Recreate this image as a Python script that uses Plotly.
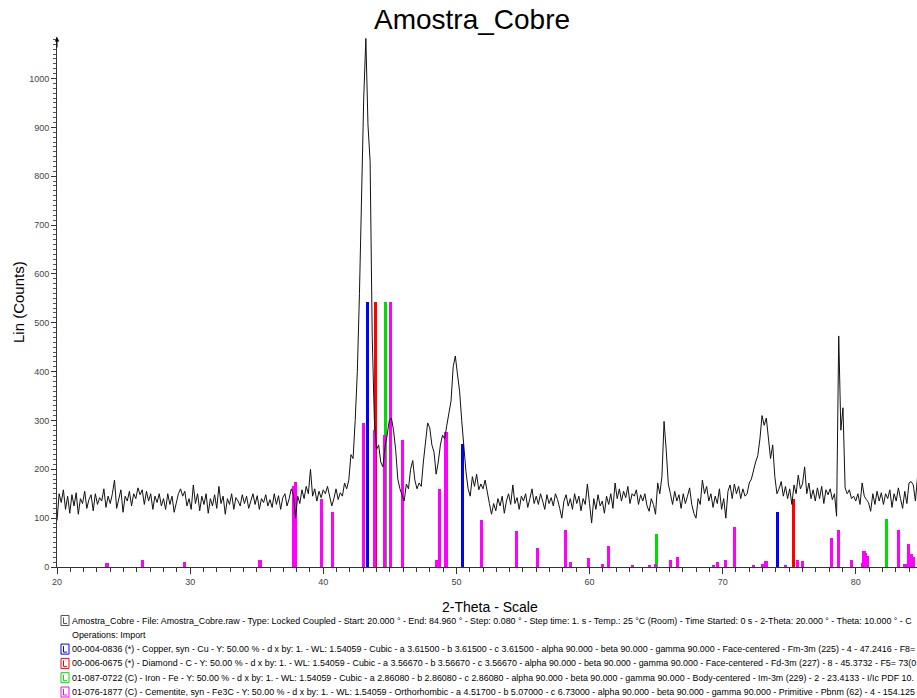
import plotly.graph_objects as go

TITLE = "Amostra_Cobre"
X_TITLE = "2-Theta - Scale"
Y_TITLE = "Lin (Counts)"

# measured scan (every second point of the 0.080 deg scan)
TWO_THETA_START = 20.0
TWO_THETA_STEP = 0.16
COUNTS = [
    95, 150, 132, 158, 118, 145, 110, 148, 125, 152, 108, 140, 130, 155, 120, 138, 148, 115, 150, 128, 142, 135, 160, 122, 145,
    130, 150, 178, 120, 140, 158, 112, 145, 135, 155, 125, 150, 140, 162, 148, 158, 128, 155, 135, 150, 118, 145, 132, 150, 125,
    140, 118, 150, 128, 145, 112, 135, 150, 160, 145, 155, 125, 140, 118, 168, 130, 150, 115, 145, 128, 150, 110, 140, 125, 148,
    120, 165, 130, 145, 108, 140, 128, 150, 118, 142, 135, 125, 148, 130, 145, 120, 138, 150, 128, 146, 118, 140, 132, 148, 125,
    138, 122, 150, 128, 146, 118, 142, 150, 125, 140, 160, 148, 100, 145, 130, 158, 140, 165, 150, 200, 145, 160, 135, 155, 142,
    158, 150, 165, 148, 125, 140, 160, 138, 152, 145, 172, 160, 178, 230, 222, 300, 400, 560, 760, 960, 1082, 905, 830, 470, 300,
    240, 250, 215, 205, 245, 270, 300, 305, 280, 240, 180, 160, 148, 135, 170, 160, 200, 218, 178, 160, 172, 165, 215, 250, 295,
    285, 250, 235, 190, 215, 250, 270, 262, 290, 320, 340, 410, 432, 395, 360, 300, 240, 195, 160, 145, 185, 165, 190, 158, 170,
    160, 178, 150, 130, 108, 130, 115, 140, 125, 145, 110, 135, 150, 128, 168, 130, 142, 118, 145, 135, 150, 122, 140, 160, 130,
    145, 128, 150, 135, 118, 148, 130, 142, 125, 150, 138, 120, 100, 135, 148, 125, 140, 118, 150, 130, 145, 115, 140, 128, 170,
    130, 90, 140, 118, 148, 125, 135, 110, 145, 128, 150, 120, 172, 140, 160, 135, 155, 142, 165, 130, 150, 145, 158, 128, 148,
    135, 150, 125, 114, 140, 128, 108, 172, 150, 185, 298, 240, 170, 150, 128, 155, 135, 148, 120, 150, 130, 145, 162, 128, 110,
    100, 140, 128, 178, 150, 165, 135, 150, 122, 145, 130, 160, 118, 140, 100, 155, 168, 140, 170, 150, 165, 140, 160, 145, 150,
    172, 180, 200, 215, 228, 262, 310, 290, 305, 265, 222, 250, 185, 150, 160, 175, 145, 165, 140, 160, 128, 168, 150, 188, 160,
    170, 205, 150, 172, 140, 158, 135, 162, 140, 165, 130, 158, 148, 160, 138, 150, 104, 473, 280, 326, 162, 150, 158, 140, 145,
    135, 150, 128, 172, 145, 138, 132, 114, 150, 128, 155, 135, 152, 128, 150, 140, 158, 122, 150, 135, 162, 140, 120, 155, 130,
    172, 175, 168, 135, 185, 160, 150,
]

# reference patterns (stick positions 2-theta, intensity in counts)
CU_POS = [43.30, 50.43, 74.13]
CU_INT = [543, 252, 113]
DIAMOND_POS = [43.92, 75.30]
DIAMOND_INT = [543, 140]
IRON_POS = [44.67, 65.02, 82.33]
IRON_INT = [543, 67, 98]
FE3C_POS = [23.75, 26.45, 29.60, 35.25, 37.75, 37.92, 39.85, 40.70, 43.00, 43.85, 44.60, 45.05,
            45.95, 48.55, 48.62, 48.72, 49.22, 51.90, 54.50, 56.10, 58.20, 58.55, 59.95, 60.95,
            61.45, 63.20, 64.50, 64.95, 66.10, 66.60, 69.30, 69.60, 70.20, 70.90, 72.30, 73.00,
            73.25, 74.75, 75.60, 76.00, 78.20, 78.70, 79.70, 80.50, 80.62, 80.76, 80.90, 83.20,
            83.70, 83.95, 84.15, 84.30]
FE3C_INT = [8, 15, 10, 15, 165, 175, 140, 112, 295, 280, 270, 543,
            261, 15, 15, 159, 277, 96, 74, 39, 76, 10, 18, 7,
            44, 5, 5, 6, 14, 21, 5, 11, 15, 81, 4, 7,
            12, 4, 15, 12, 60, 75, 14, 8, 33, 29, 23, 76,
            7, 48, 27, 20]

X_TICKS = [20, 30, 40, 50, 60, 70, 80]
Y_TICKS = [0, 100, 200, 300, 400, 500, 600, 700, 800, 900, 1000]

LEGEND_LINES = [
    ("#555555", "Amostra_Cobre - File: Amostra_Cobre.raw - Type: Locked Coupled - Start: 20.000 ° - End: 84.960 ° - Step: 0.080 ° - Step time: 1. s - Temp.: 25 °C (Room) - Time Started: 0 s - 2-Theta: 20.000 ° - Theta: 10.000 ° - C"),
    (None, "Operations: Import"),
    ("#0000ff", "00-004-0836 (*) - Copper, syn - Cu - Y: 50.00 % - d x by: 1. - WL: 1.54059 - Cubic - a 3.61500 - b 3.61500 - c 3.61500 - alpha 90.000 - beta 90.000 - gamma 90.000 - Face-centered - Fm-3m (225) - 4 - 47.2416 - F8="),
    ("#ff0000", "00-006-0675 (*) - Diamond - C - Y: 50.00 % - d x by: 1. - WL: 1.54059 - Cubic - a 3.56670 - b 3.56670 - c 3.56670 - alpha 90.000 - beta 90.000 - gamma 90.000 - Face-centered - Fd-3m (227) - 8 - 45.3732 - F5= 73(0"),
    ("#00dd00", "01-087-0722 (C) - Iron - Fe - Y: 50.00 % - d x by: 1. - WL: 1.54059 - Cubic - a 2.86080 - b 2.86080 - c 2.86080 - alpha 90.000 - beta 90.000 - gamma 90.000 - Body-centered - Im-3m (229) - 2 - 23.4133 - I/Ic PDF 10."),
    ("#ff00ff", "01-076-1877 (C) - Cementite, syn - Fe3C - Y: 50.00 % - d x by: 1. - WL: 1.54059 - Orthorhombic - a 4.51700 - b 5.07000 - c 6.73000 - alpha 90.000 - beta 90.000 - gamma 90.000 - Primitive - Pbnm (62) - 4 - 154.125"),
]

# ---- layout geometry (pixels) ----
W, H = 917, 698
L, R, T, B = 57, 0, 37, 131
PW, PH = W - L - R, H - T - B


def px(x):
    return (x - L) / PW


def py(y):
    return (H - B - y) / PH


two_theta = [TWO_THETA_START + TWO_THETA_STEP * i for i in range(len(COUNTS))]

fig = go.Figure()
BAR_W = 0.24
for pos, inten, col in [
    (CU_POS, CU_INT, "#0000ff"),
    (DIAMOND_POS, DIAMOND_INT, "#ff0000"),
    (IRON_POS, IRON_INT, "#00dd00"),
    (FE3C_POS, FE3C_INT, "#ff00ff"),
]:
    fig.add_trace(go.Bar(x=pos, y=inten, width=BAR_W, marker=dict(color=col, line=dict(width=0)),
                         showlegend=False, hoverinfo="x+y"))

fig.add_trace(go.Scatter(x=two_theta, y=COUNTS, mode="lines",
                         line=dict(color="#111111", width=1), showlegend=False))

FONT = "Liberation Sans, Arial, sans-serif"

annotations = [
    dict(text=TITLE, x=px(472), y=py(19), xref="paper", yref="paper", showarrow=False,
         font=dict(family=FONT, size=28, color="#000000"), xanchor="center", yanchor="middle"),
    dict(text=X_TITLE, x=px(490), y=py(607), xref="paper", yref="paper", showarrow=False,
         font=dict(family=FONT, size=14, color="#000000"), xanchor="center", yanchor="middle"),
    dict(text=Y_TITLE, x=px(18), y=py(302), xref="paper", yref="paper", showarrow=False, textangle=-90,
         font=dict(family=FONT, size=15, color="#000000"), xanchor="center", yanchor="middle"),
    dict(x=0, y=1, xref="paper", yref="paper", ax=0, ay=12, showarrow=True, arrowhead=2,
         arrowsize=0.9, arrowwidth=1, arrowcolor="#000000", text=""),
]

shapes = []
y0 = 620.5
for i, (col, txt) in enumerate(LEGEND_LINES):
    yy = y0 + i * 14.3
    annotations.append(dict(text=txt, x=px(70), y=py(yy), xref="paper", yref="paper",
                            showarrow=False, xanchor="left", yanchor="middle",
                            font=dict(family=FONT, size=8.9, color="#000000")))
    if col:
        shapes.append(dict(type="rect", xref="paper", yref="paper",
                           x0=px(61), x1=px(69), y0=py(yy + 5), y1=py(yy - 5),
                           line=dict(color=col, width=1), fillcolor="rgba(0,0,0,0)"))
        shapes.append(dict(type="path", xref="paper", yref="paper",
                           path="M {} {} L {} {} L {} {}".format(px(63.5), py(yy - 3), px(63.5), py(yy + 3), px(67), py(yy + 3)),
                           line=dict(color=col, width=1)))

fig.update_layout(
    width=W, height=H,
    margin=dict(l=L, r=R, t=T, b=B),
    paper_bgcolor="white", plot_bgcolor="white",
    barmode="overlay",
    bargap=0,
    annotations=annotations,
    shapes=shapes,
    xaxis=dict(range=[20, 84.6], tickvals=X_TICKS, ticks="outside", ticklen=6, tickcolor="#333333",
               showline=True, linecolor="#333333", linewidth=1, showgrid=False, zeroline=False,
               tickfont=dict(family=FONT, size=9, color="#444444"),
               minor=dict(dtick=1, ticks="outside", ticklen=4, tickcolor="#333333")),
    yaxis=dict(range=[0, 1085], tickvals=Y_TICKS, ticks="outside", ticklen=5, tickcolor="#333333",
               showline=True, linecolor="#333333", linewidth=1, showgrid=False, zeroline=False,
               tickfont=dict(family=FONT, size=9, color="#444444"),
               minor=dict(dtick=10, ticks="outside", ticklen=3, tickcolor="#555555")),
)

fig.write_html("out.html", config={"displayModeBar": False},
               post_script="document.body.style.margin='0';document.body.style.overflow='hidden';")
